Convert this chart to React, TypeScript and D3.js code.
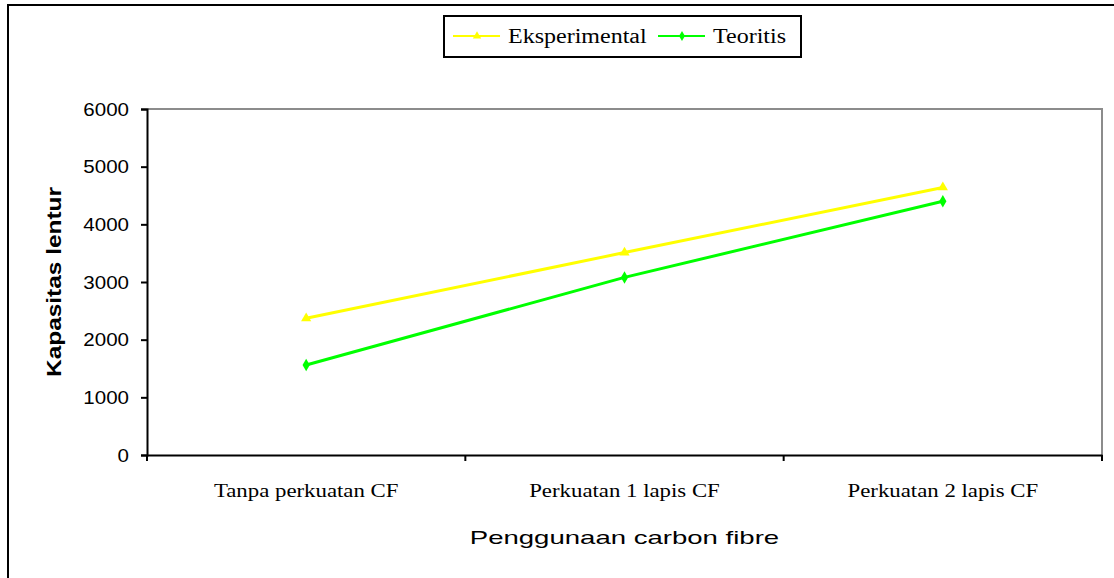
import { useEffect, useRef } from 'react';
import * as d3 from 'd3';

const categories = ['Tanpa perkuatan CF', 'Perkuatan 1 lapis CF', 'Perkuatan 2 lapis CF'];
const eksperimental = [2370, 3510, 4640];
const teoritis = [1560, 3080, 4400];
const yTicks = [0, 1000, 2000, 3000, 4000, 5000, 6000];

const W = 1114;
const H = 578;

// stretch text horizontally like the original (Excel chart pasted wider)
const stretch = (sel: any, factor: number) => {
  sel.each(function (this: any) {
    const len = this.getComputedTextLength();
    d3.select(this)
      .attr('textLength', len * factor)
      .attr('lengthAdjust', 'spacingAndGlyphs');
  });
};

const App = () => {
  const svgRef = useRef(null);

  useEffect(() => {
    const svg = d3.select(svgRef.current);
    svg.selectAll('*').remove();

    const margin = { top: 109, right: 12, bottom: 123, left: 147 };
    const width = W - margin.left - margin.right;
    const height = H - margin.top - margin.bottom;

    // outer frame (runs off right/bottom edge)
    svg.append('rect')
      .attr('x', 8).attr('y', 5)
      .attr('width', W + 10).attr('height', H + 10)
      .attr('fill', 'white')
      .attr('stroke', 'black')
      .attr('stroke-width', 2);

    const g = svg.append('g')
      .attr('transform', `translate(${margin.left},${margin.top})`);

    const x = d3.scaleBand().domain(categories).range([0, width]);
    const y = d3.scaleLinear().domain([0, 6000]).range([height, 0]);

    // plot area border (grey top/right)
    g.append('path')
      .attr('d', `M0,0H${width}V${height}`)
      .attr('fill', 'none')
      .attr('stroke', '#8c8c8c')
      .attr('stroke-width', 2);

    // y axis
    const yAxis = g.append('g')
      .call(d3.axisLeft(y).tickValues(yTicks).tickSize(6).tickPadding(12).tickFormat(d3.format('d')));
    yAxis.select('path').attr('stroke', 'black').attr('stroke-width', 2);
    yAxis.selectAll('line').attr('stroke', 'black').attr('stroke-width', 2);
    const tickText = yAxis.selectAll('text')
      .attr('fill', 'black')
      .attr('font-family', 'Liberation Sans, Arial, sans-serif')
      .attr('font-size', '19px');
    stretch(tickText, 1.08);

    // x axis
    const xAxis = g.append('g')
      .attr('transform', `translate(0,${height})`)
      .call(d3.axisBottom(x).tickSize(0).tickPadding(29));
    xAxis.select('path').attr('stroke', 'black').attr('stroke-width', 2);
    const catText = xAxis.selectAll('text')
      .attr('fill', 'black')
      .attr('font-family', 'Liberation Serif, Times New Roman, serif')
      .attr('font-size', '19px');
    stretch(catText, 1.2);

    // category dividers
    const bounds = [0, ...categories.map(c => (x(c) as number) + x.bandwidth())];
    g.selectAll('.ctick')
      .data(bounds)
      .enter().append('line')
      .attr('x1', d => d).attr('x2', d => d)
      .attr('y1', height).attr('y2', height + 6)
      .attr('stroke', 'black')
      .attr('stroke-width', 2);

    const cx = (c: string) => (x(c) as number) + x.bandwidth() / 2;
    const line = d3.line<number>()
      .x((_, i) => cx(categories[i]))
      .y(d => y(d));

    const series = [
      { name: 'Eksperimental', values: eksperimental, color: '#ffff00', symbol: d3.symbolTriangle },
      { name: 'Teoritis', values: teoritis, color: '#00ff00', symbol: d3.symbolDiamond },
    ];

    series.forEach(s => {
      g.append('path')
        .datum(s.values)
        .attr('d', line)
        .attr('fill', 'none')
        .attr('stroke', s.color)
        .attr('stroke-width', 3);
      g.selectAll(null)
        .data(s.values)
        .enter().append('path')
        .attr('d', d3.symbol().type(s.symbol).size(45)())
        .attr('transform', (d, i) => `translate(${cx(categories[i])},${y(d)})`)
        .attr('fill', s.color);
    });

    // axis titles
    const yTitle = svg.append('text')
      .attr('transform', `translate(61,${margin.top + height / 2}) rotate(-90)`)
      .attr('text-anchor', 'middle')
      .attr('font-family', 'Liberation Sans, Arial, sans-serif')
      .attr('font-weight', 'bold')
      .attr('font-size', '20px')
      .text('Kapasitas lentur');
    stretch(yTitle, 1.22);

    const xTitle = svg.append('text')
      .attr('x', margin.left + width / 2)
      .attr('y', 544)
      .attr('text-anchor', 'middle')
      .attr('font-family', 'Liberation Sans, Arial, sans-serif')
      .attr('font-size', '19px')
      .text('Penggunaan carbon fibre');
    stretch(xTitle, 1.45);

    // legend
    const lg = svg.append('g').attr('transform', 'translate(444,16)');
    lg.append('rect')
      .attr('width', 357).attr('height', 41)
      .attr('fill', 'white')
      .attr('stroke', 'black')
      .attr('stroke-width', 2);
    const offsets = [9, 214];
    series.forEach((s, i) => {
      const ox = offsets[i];
      lg.append('line')
        .attr('x1', ox).attr('x2', ox + 47)
        .attr('y1', 20).attr('y2', 20)
        .attr('stroke', s.color)
        .attr('stroke-width', 2);
      lg.append('path')
        .attr('d', d3.symbol().type(s.symbol).size(30)())
        .attr('transform', `translate(${ox + 24},20)`)
        .attr('fill', s.color);
      const t = lg.append('text')
        .attr('x', ox + 55)
        .attr('y', 27)
        .attr('font-family', 'Liberation Serif, Times New Roman, serif')
        .attr('font-size', '20px')
        .text(s.name);
      stretch(t, 1.2);
    });
  }, []);

  return (
    <svg
      ref={svgRef}
      width={W}
      height={H}
      style={{ position: 'absolute', left: 0, top: 0, background: 'white' }}
    />
  );
};

export default App;
